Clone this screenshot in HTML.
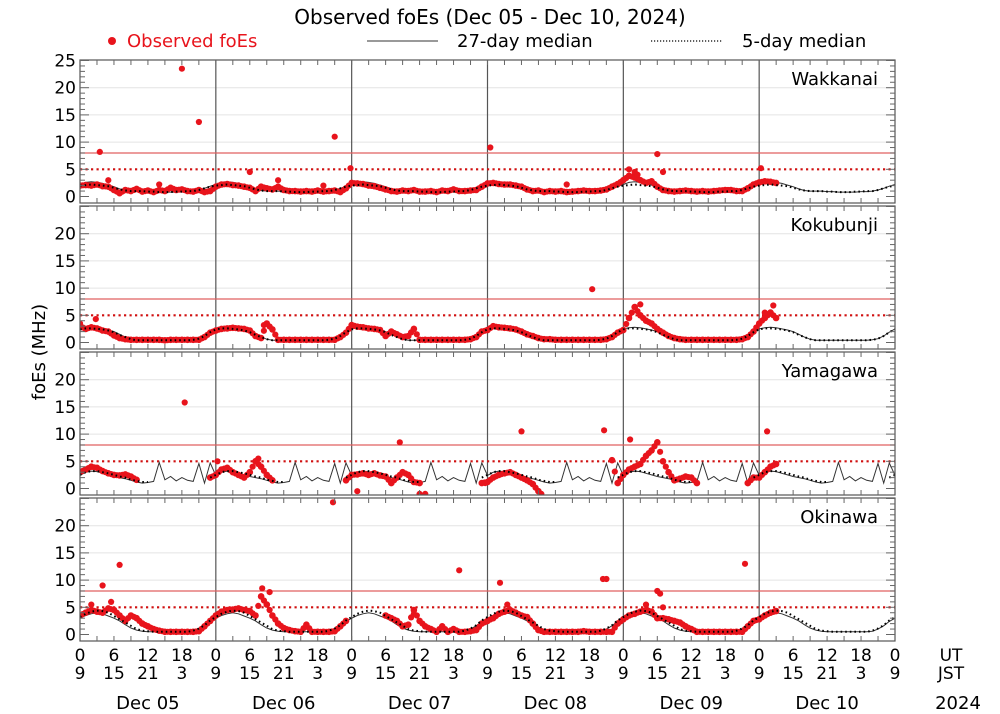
<!DOCTYPE html>
<html><head><meta charset="utf-8"><style>
html,body{margin:0;padding:0;background:#fff;}
svg{display:block;font-family:"DejaVu Sans","Liberation Sans",sans-serif;}
</style></head><body>
<svg id="chart" width="1000" height="714" viewBox="0 0 1000 714">
<text x="490" y="24" font-size="20" text-anchor="middle">Observed foEs (Dec 05 - Dec 10, 2024)</text>
<g>
<circle cx="112" cy="41" r="4" fill="#e8141c"/>
<text x="127" y="47" font-size="18" fill="#e8141c">Observed foEs</text>
<line x1="367" y1="41" x2="438" y2="41" stroke="#333" stroke-width="1"/>
<text x="457" y="47" font-size="18">27-day median</text>
<line x1="651" y1="41" x2="722" y2="41" stroke="#000" stroke-width="1.2" stroke-dasharray="1.2,1.8"/>
<text x="742" y="47" font-size="18">5-day median</text>
</g>
<text transform="translate(45,352) rotate(-90)" font-size="18" text-anchor="middle">foEs (MHz)</text>
<g id="panels"></g>
<g id="xaxis"></g>
</svg>
<script>
const stations = ["Wakkanai","Kokubunji","Yamagawa","Okinawa"];
const yTicks = [0,5,10,15,20,25];
const utLabels = ["0","6","12","18"];
const jstLabels = ["9","15","21","3"];
const dayLabels = ["Dec 05","Dec 06","Dec 07","Dec 08","Dec 09","Dec 10"];
const thresholdSolid = 8;
const thresholdDotted = 5;
const N = null;
// 27-day median hourly profiles (UT 0..23)
const med27Wak = [2.2,2.6,2.7,2.6,2.4,2.1,1.8,1.4,1.1,1.0,1.0,1.0,0.9,0.9,0.8,0.8,0.8,0.8,0.9,0.9,1.0,1.2,1.5,1.9];
const med27Kok = [2.5,2.7,2.8,2.7,2.5,2.3,2.0,1.5,1.0,0.6,0.4,0.4,0.4,0.4,0.4,0.4,0.4,0.4,0.4,0.4,0.5,0.7,1.2,1.9];
const med27Yam = [2.4,3.0,3.2,3.1,2.8,2.5,2.2,2.0,1.8,1.5,1.2,1.0,1.1,1.3,4.8,1.6,2.2,1.4,2.0,1.5,1.3,4.6,1.0,4.7];
const med27Oki = [3.0,3.5,3.8,4.0,3.8,3.4,3.0,2.5,1.8,1.2,0.8,0.6,0.5,0.5,0.5,0.5,0.5,0.5,0.5,0.5,0.6,1.0,1.6,2.4];
// 5-day median hourly profiles
const med5Wak = [2.0,2.1,2.2,2.1,2.0,1.9,1.6,1.3,1.1,1.0,1.0,1.0,0.9,0.9,0.8,0.8,0.8,0.9,0.9,1.0,1.0,1.2,1.5,1.8];
const med5Kok = [2.4,2.6,2.6,2.5,2.4,2.2,1.9,1.4,1.0,0.6,0.4,0.4,0.4,0.4,0.4,0.4,0.4,0.4,0.4,0.4,0.5,0.7,1.2,1.9];
const med5Yam = [2.5,3.0,3.2,3.2,3.0,2.8,2.5,2.2,2.0,1.6,1.4,1.2,1.2,N,N,N,N,N,N,N,N,N,N,2.0];
const med5Oki = [3.2,3.8,4.2,4.4,4.3,4.0,3.4,2.8,2.2,1.6,1.0,0.7,0.6,0.5,0.5,0.5,0.5,0.5,0.5,0.5,0.7,1.1,1.7,2.6];
// observed hourly values from Dec 05 00UT
const obsWak = [2.0,2.1,2.0,2.2,1.9,1.8,1.2,0.6,1.2,1.0,1.4,0.9,1.1,0.8,1.2,1.0,1.6,1.2,1.3,1.0,0.9,1.2,0.8,1.0,
1.8,2.2,2.3,2.1,2.0,1.8,1.6,1.0,1.8,1.5,1.3,1.8,1.2,1.0,1.0,0.9,1.0,0.9,1.1,0.9,1.0,1.1,0.8,1.5,
2.5,2.4,2.3,2.0,1.9,1.6,1.3,1.0,0.9,1.1,1.0,1.2,0.9,0.9,1.0,0.8,1.1,1.0,1.3,1.0,1.0,1.1,1.2,1.8,
2.4,2.5,2.3,2.2,2.2,2.0,1.8,1.3,1.0,1.1,0.8,1.0,0.9,1.0,0.8,0.9,1.0,1.1,1.0,1.0,1.1,1.3,1.8,2.3,
3.0,3.8,3.5,3.0,2.5,2.8,1.8,1.2,1.0,0.9,1.0,1.1,1.0,0.9,1.0,0.9,1.0,1.1,1.2,1.2,1.0,1.0,1.5,2.2,
2.6,2.8,2.7,2.5];
const obsKok = [3.0,2.5,2.8,2.6,2.2,2.0,1.3,0.8,0.6,0.5,0.5,0.5,0.5,0.5,0.5,0.4,0.5,0.5,0.5,0.5,0.5,0.5,1.0,1.8,
2.2,2.5,2.6,2.7,2.6,2.5,2.2,1.2,0.8,3.5,2.4,0.5,0.5,0.5,0.5,0.5,0.5,0.5,0.5,0.5,0.5,0.5,1.0,1.8,
3.2,2.9,2.8,2.6,2.5,2.3,1.2,2.0,1.5,1.0,1.2,2.5,0.5,0.5,0.5,0.5,0.5,0.5,0.5,0.5,0.5,0.6,1.0,2.0,
2.3,3.0,2.8,2.7,2.6,2.4,2.0,1.5,1.2,0.8,0.6,0.6,0.5,0.5,0.5,0.5,0.5,0.5,0.5,0.5,0.5,0.6,1.0,1.8,
2.3,4.5,6.5,5.0,4.0,3.5,2.5,1.8,1.2,0.8,0.6,0.5,0.5,0.5,0.5,0.5,0.5,0.5,0.5,0.5,0.5,0.6,1.0,2.0,
3.5,4.5,5.5,4.5];
const obsYam = [3.0,3.5,4.0,3.8,3.2,2.8,2.5,2.4,2.6,2.2,1.6,N,N,N,N,N,N,N,N,N,N,N,N,2.0,
2.5,3.5,3.8,3.0,2.5,2.0,3.0,5.0,4.0,2.5,1.5,N,N,N,N,N,N,N,N,N,N,N,N,1.5,
2.5,2.6,2.8,2.5,2.8,2.4,2.2,1.0,2.0,3.0,2.5,1.2,1.0,N,N,N,N,N,N,N,N,N,N,1.0,
1.2,2.0,2.5,2.8,3.0,2.5,2.0,1.5,0.8,-0.5,N,N,N,N,N,N,N,N,N,N,N,N,5.2,1.0,
2.5,3.5,4.0,4.5,6.0,7.0,8.5,5.0,3.0,1.5,1.8,2.2,2.0,1.0,N,N,N,N,N,N,N,N,1.0,2.0,
2.0,3.0,4.0,4.5];
const obsOki = [3.5,4.0,4.5,4.2,4.0,4.8,4.5,3.5,2.5,3.5,3.0,2.0,1.5,1.0,0.7,0.5,0.5,0.5,0.5,0.5,0.5,0.6,1.5,2.5,
3.5,4.2,4.5,4.6,4.8,4.5,4.3,3.5,7.0,5.5,3.5,2.0,1.2,0.8,0.6,0.5,1.8,0.5,0.5,0.5,0.5,0.6,1.5,2.5,
N,N,N,N,N,N,3.5,3.0,2.5,1.5,1.8,4.5,2.5,1.5,1.0,0.5,1.5,0.5,1.0,0.5,0.5,0.6,0.8,2.0,
2.5,3.0,3.8,4.2,4.5,4.0,3.5,3.2,2.0,0.8,0.5,0.5,0.5,0.5,0.5,0.5,0.5,0.6,0.5,0.5,0.5,0.5,0.5,2.0,
2.8,3.5,3.8,4.2,4.5,4.2,3.0,3.0,2.8,2.5,2.2,1.5,1.0,0.5,0.5,0.5,0.5,0.5,0.5,0.5,0.5,0.5,1.5,2.5,
2.8,3.5,4.0,4.3];
// isolated observed points: hours since Dec 05 00UT and values
const outWakT = [3.5,5,18,21,14,30,35,43,45,47.8,72.5,86,97,98,102,103,98.5,120.3];
const outWakV = [8.2,3.0,23.5,13.7,2.2,4.5,3.0,2.0,11.0,5.2,9.0,2.2,5.0,4.5,7.8,4.5,4.0,5.2];
const outKokT = [0,2.8,32.5,59,90.5,98,99,121,122.5];
const outKokV = [3.5,4.3,3.2,2.5,9.8,6.5,7.0,5.5,6.8];
const outYamT = [18.5,24.3,31.5,49,56.5,60,61,71.6,78,81.5,92.6,97.2,118,121.4];
const outYamV = [15.8,5.0,5.5,-0.5,8.5,-1.0,-1.0,1.0,10.5,-1.0,10.7,9.0,1.0,10.5];
const outOkiT = [4,7,2,5.5,32.2,33.5,32,44.7,59,67,74.2,92.4,93,75.5,102,102.5,100,103,117.5];
const outOkiV = [9.0,12.8,5.5,6.0,8.5,7.8,7.0,24.3,3.8,11.8,9.5,10.2,10.2,5.5,8.0,7.5,5.5,5.0,13.0];

const SVGNS = "http://www.w3.org/2000/svg";
const svg = document.getElementById("chart");
const panelsG = document.getElementById("panels");
const X0 = 80, X1 = 895, HOURS = 144;
const PANEL_TOP = [60,206,352,498], PANEL_H = 143;
function xs(t){ return X0 + t*(X1-X0)/HOURS; }
function ys(p,v){ return PANEL_TOP[p] + 136.5 - v*5.44; }
function el(tag, attrs, parent){ const e=document.createElementNS(SVGNS,tag); for(const k in attrs) e.setAttribute(k,attrs[k]); parent.appendChild(e); return e; }

const med27 = [med27Wak,med27Kok,med27Yam,med27Oki];
const med5 = [med5Wak,med5Kok,med5Yam,med5Oki];
const obs = [obsWak,obsKok,obsYam,obsOki];
const outT = [outWakT,outKokT,outYamT,outOkiT];
const outV = [outWakV,outKokV,outYamV,outOkiV];

stations.forEach((name,p)=>{
  const g = el("g",{},panelsG);
  
  
  const top = PANEL_TOP[p], bot = top+PANEL_H;
  const clipId = "clip"+p;
  const cp = el("clipPath",{id:clipId},g);
  el("rect",{x:X0,y:top,width:X1-X0,height:PANEL_H},cp);
  [10,15,20].forEach(v=>{
    const l = el("line",{x1:X0,x2:X1,y1:ys(p,v),y2:ys(p,v),stroke:"#e4e4e4","stroke-width":1},g);
    
    
  });
  for(let d=1; d<6; d++){
    const l = el("line",{x1:xs(d*24),x2:xs(d*24),y1:top,y2:bot,stroke:"#555","stroke-width":1.2},g);
    
    
  }
  const ts = el("line",{x1:X0,x2:X1,y1:ys(p,thresholdSolid),y2:ys(p,thresholdSolid),stroke:"#e06060","stroke-width":1.2},g);
  
  
  const td = el("line",{x1:X0,x2:X1,y1:ys(p,thresholdDotted),y2:ys(p,thresholdDotted),stroke:"#d01010","stroke-width":2.2,"stroke-dasharray":"2.2,3.3"},g);
  
  
  const dg = el("g",{"clip-path":"url(#"+clipId+")"},g);
  let d27 = "";
  for(let t=0; t<=HOURS; t++){ const v = med27[p][t%24]; d27 += (t?"L":"M")+xs(t).toFixed(1)+","+ys(p,v).toFixed(1); }
  const l27 = el("path",{d:d27,fill:"none",stroke:"#333","stroke-width":1},dg);
  
  
  const og = el("g",{fill:"#e8141c"},dg);
  
  
  obs[p].forEach((v,t)=>{
    if(v===null) return;
    const c = el("circle",{cx:xs(t).toFixed(1),cy:ys(p,v).toFixed(1),r:3.3},og);
    
    
    const nv = obs[p][t+1];
    if(nv!==null && nv!==undefined){
      const c2 = el("circle",{cx:xs(t+0.5).toFixed(1),cy:ys(p,(v+nv)/2).toFixed(1),r:3.1},og);
      
      
    }
  });
  outT[p].forEach((t,i)=>{
    const c = el("circle",{cx:xs(t).toFixed(1),cy:ys(p,outV[p][i]).toFixed(1),r:3.1},og);
    
    
  });
  let d5 = "", pen=false;
  for(let t=0; t<=HOURS; t++){ const v = med5[p][t%24]; if(v===null){pen=false;continue;} d5 += (pen?"L":"M")+xs(t).toFixed(1)+","+ys(p,v).toFixed(1); pen=true; }
  const l5 = el("path",{d:d5,fill:"none",stroke:"#000","stroke-width":2,"stroke-dasharray":"1.6,3"},dg);
  
  
  const fr = el("rect",{x:X0,y:top,width:X1-X0,height:PANEL_H,fill:"none",stroke:"#555","stroke-width":1.2},g);
  
  
  for(let v=0; v<=25; v++){
    const y = ys(p,v); if(y<top+0.3) continue;
    const len = (v%5===0)?9:5;
    el("line",{x1:X0,x2:X0+len,y1:y,y2:y,stroke:"#666","stroke-width":1},g);
    el("line",{x1:X1,x2:X1-len,y1:y,y2:y,stroke:"#666","stroke-width":1},g);
  }
  yTicks.forEach(v=>{
    if(v===25 && p>0) return;
    const tx = el("text",{x:X0-4,y:ys(p,v)+6,"font-size":17,"text-anchor":"end"},g);
    tx.textContent = v;
    
    
  });
  for(let t=3; t<HOURS; t+=3){
    el("line",{x1:xs(t),x2:xs(t),y1:top,y2:top+5,stroke:"#666","stroke-width":1},g);
    el("line",{x1:xs(t),x2:xs(t),y1:bot,y2:bot-5,stroke:"#666","stroke-width":1},g);
  }
  const st = el("text",{x:878,y:top+25,"font-size":18,"text-anchor":"end"},g);
  st.textContent = name;
  
  
});
const xa = document.getElementById("xaxis");
for(let d=0; d<6; d++){
  for(let k=0;k<4;k++){
    const t = d*24+k*6;
    const a = el("text",{x:xs(t),y:661,"font-size":17,"text-anchor":"middle"},xa);
    a.textContent = utLabels[k];
    
    
    const b = el("text",{x:xs(t),y:679,"font-size":17,"text-anchor":"middle"},xa);
    b.textContent = jstLabels[k];
    
    
  }
  const dl = el("text",{x:xs(d*24+12),y:709,"font-size":18,"text-anchor":"middle"},xa);
  dl.textContent = dayLabels[d];
  
  
}
const e0 = el("text",{x:xs(144),y:661,"font-size":17,"text-anchor":"middle"},xa); e0.textContent="0";


const e9 = el("text",{x:xs(144),y:679,"font-size":17,"text-anchor":"middle"},xa); e9.textContent="9";


const ut = el("text",{x:951,y:661,"font-size":17,"text-anchor":"middle"},xa); ut.textContent="UT";


const jst = el("text",{x:951,y:679,"font-size":17,"text-anchor":"middle"},xa); jst.textContent="JST";


const yr = el("text",{x:958,y:709,"font-size":18,"text-anchor":"middle"},xa); yr.textContent="2024";


</script>
</body></html>
